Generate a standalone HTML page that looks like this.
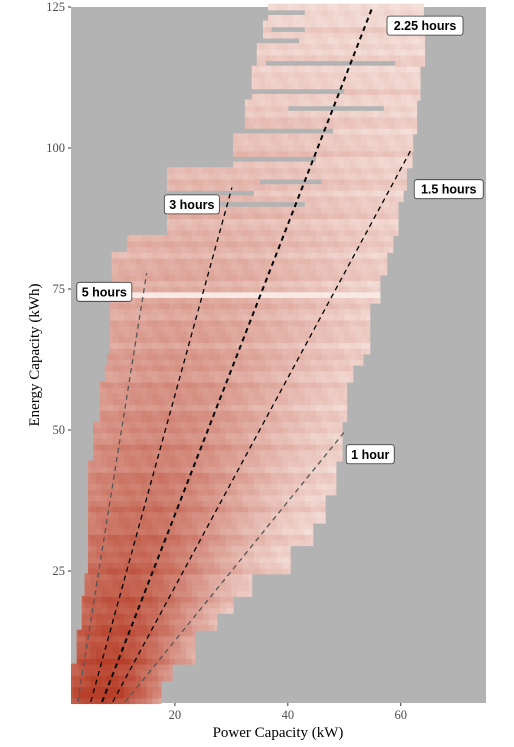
<!DOCTYPE html>
<html><head><meta charset="utf-8"><style>
html,body{margin:0;padding:0;background:#fff;}
svg{display:block;}
.tk{font-family:"Liberation Serif",serif;font-size:12.5px;fill:#4d4d4d;}
.ttl{font-family:"Liberation Serif",serif;font-size:15px;fill:#000;}
.lb{font-family:"Liberation Sans",sans-serif;font-size:12.5px;font-weight:bold;fill:#000;}
</style></head><body>
<svg id="chart" width="514" height="747" xmlns="http://www.w3.org/2000/svg">
<rect x="71" y="7" width="415" height="696" fill="#b3b3b3"/>
<g id="cells"></g>
<g id="lines"></g>
<g id="axes"></g>
<g id="labels"></g>
<text class="ttl" x="278" y="737" text-anchor="middle">Power Capacity (kW)</text>
<text class="ttl" transform="translate(39,355) rotate(-90)" text-anchor="middle">Energy Capacity (kWh)</text>
</svg>
<script>
// data
const bandY     = [2, 6, 9, 15, 18, 21, 25, 30, 34, 39, 45, 52, 59, 62, 64, 73, 78, 82, 85, 91, 93, 97, 100, 103, 109, 112, 115, 119, 123];
const bandLeft  = [1.6,1.6,2.6,3.5,3.5,4.0,4.6,4.6,4.6,4.6,5.5,6.7,7.6,8.0,8.5,8.8,8.8,11.5,18.6,18.6,18.6,30.3,30.3,32.4,33.6,33.6,34.5,35.6,36.5];
const bandRight = [17.5,19.5,23.5,27.4,30.3,33.6,40.4,44.4,46.6,48.5,49.6,50.4,51.5,53.3,54.5,56.3,57.5,58.6,59.5,60.4,61.0,62.0,62.1,62.8,63.4,63.4,64.2,64.2,64.0];
const gapY     = [124, 121, 119, 115, 110, 107, 103, 98, 94, 92, 90];
const gapStart = [36, 36.5, 35.6, 36, 33.6, 40, 32.4, 30, 34.5, 18.6, 18.6];
const gapEnd   = [43.5, 43.5, 42.5, 59.5, 50, 57.5, 48.5, 45, 46.6, 34.5, 43.5];
const lineNames = ["5 hours","3 hours","2.25 hours","1.5 hours","1 hour"];
const lineX0 = [2.8, 5.1, 7.1, 9.0, 11.2];
const lineY0 = [1.8, 1.8, 1.8, 1.8, 1.8];
const lineX1 = [15.0, 30.1, 55.0, 62.0, 50.3];
const lineY1 = [77.8, 93, 125, 100, 50];
const labelX = [7.5, 23.0, 64.3, 68.5, 54.6];
const labelY = [74.5, 90, 121.7, 92.7, 45.7];
const xTicks = [20, 40, 60];
const yTicks = [25, 50, 75, 100, 125];

const NS="http://www.w3.org/2000/svg";
const X0=71,X1=486,Y0=703,Y1=7, XMIN=1.6,XMAX=75.1,YMIN=1.6,YMAX=125;
const sx=v=>X0+(v-XMIN)/(XMAX-XMIN)*(X1-X0);
const sy=v=>Y0-(v-YMIN)/(YMAX-YMIN)*(Y0-Y1);
function mk(tag,attrs,parent){const e=document.createElementNS(NS,tag);for(const k in attrs)e.setAttribute(k,attrs[k]);parent.appendChild(e);return e;}
function col(t){const lo=[249,236,232],hi=[182,62,40];return `rgb(${lo.map((l,i)=>Math.round(l+(hi[i]-l)*t)).join(",")})`;}

const cg=document.getElementById("cells");
for(let y=2;y<=125;y++){
  let b=0;for(let i=0;i<bandY.length;i++)if(bandY[i]<=y)b=i;
  const L=bandLeft[b],R=bandRight[b];
  const rowVar=0.04*Math.sin(y*2.3)+0.03*Math.sin(y*5.1);
  for(let x=Math.floor(L);x<Math.ceil(R);x++){
    const xa=Math.max(x,L),xb=Math.min(x+1,R);
    let skip=false;
    for(let g=0;g<gapY.length;g++)if(gapY[g]===y&&xa>=gapStart[g]-0.01&&xb<=gapEnd[g]+0.01)skip=true;
    if(skip)continue;
    const xc=7+0.2*y,w=11+0.25*y;
    const fy=Math.pow(Math.max(0,1-y/150),1.7);
    let t=0.1+0.85*Math.exp(-Math.pow((x+0.5-xc)/w,2))*fy+0.12*fy*(1-(x-L)/(R-L+1));
    t+=rowVar+0.025*Math.sin(x*1.7+y);
    if(y===74)t=0.02;
    const r=mk("rect",{x:sx(xa),y:sy(y+0.5)-0.5,width:sx(xb)-sx(xa)+0.6,height:sy(y-0.5)-sy(y+0.5)+1,fill:col(Math.min(1,Math.max(0,t)))},cg);
    
    
  }
}
const lg=document.getElementById("lines");
for(let i=0;i<lineNames.length;i++){
  const grey=(i===0||i===4);
  const l=mk("line",{x1:sx(lineX0[i]),y1:sy(lineY0[i]),x2:sx(lineX1[i]),y2:sy(lineY1[i]),stroke:grey?"#555":"#000","stroke-width":i===2?2:1.3,"stroke-dasharray":"5,4"},lg);
  
  
}
const ag=document.getElementById("axes");
for(const v of xTicks){
  mk("line",{x1:sx(v),x2:sx(v),y1:703,y2:706,stroke:"#333"},ag);
  const t=mk("text",{x:sx(v),y:719,"text-anchor":"middle",class:"tk"},ag);t.textContent=v;
  
  
}
for(const v of yTicks){
  mk("line",{x1:68,x2:71,y1:sy(v),y2:sy(v),stroke:"#333"},ag);
  const t=mk("text",{x:65,y:sy(v)+4,"text-anchor":"end",class:"tk"},ag);t.textContent=v;
  
  
}
const lbg=document.getElementById("labels");
for(let i=0;i<lineNames.length;i++){
  const g=mk("g",{},lbg);
  
  
  const cx=sx(labelX[i]),cy=sy(labelY[i]);
  const w=lineNames[i].length*7.0+6;
  mk("rect",{x:cx-w/2,y:cy-9.5,width:w,height:19,rx:2.5,fill:"#fff",stroke:"#333","stroke-width":0.8},g);
  const t=mk("text",{x:cx,y:cy+4.5,"text-anchor":"middle",class:"lb"},g);t.textContent=lineNames[i];
}
</script>
</body></html>
